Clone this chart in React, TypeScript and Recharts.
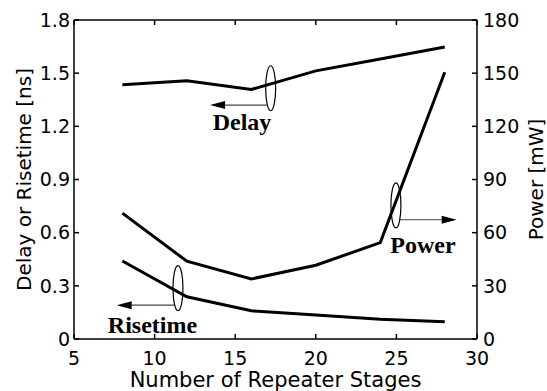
import React from "react";
import {
  LineChart,
  Line,
  XAxis,
  YAxis,
  ReferenceLine,
  ReferenceDot,
} from "recharts";

// repeater stages on the x axis
const STAGES = [8, 12, 16, 20, 24, 28];
// left axis, ns
const DELAY = [1.434, 1.457, 1.408, 1.513, 1.58, 1.648];
const RISETIME = [0.44, 0.238, 0.159, 0.135, 0.111, 0.097];
// right axis, mW
const POWER = [71, 43.9, 33.9, 41.6, 54.4, 150.5];

const X_TICKS = [5, 10, 15, 20, 25, 30];
const LEFT_TICKS = [0, 0.3, 0.6, 0.9, 1.2, 1.5, 1.8];
const RIGHT_TICKS = [0, 30, 60, 90, 120, 150, 180];
const X_DOMAIN = [5, 30];
const LEFT_DOMAIN = [0, 1.8];
const RIGHT_DOMAIN = [0, 180];

// annotation anchors (data units, left axis)
const RINGS = [
  { x: 17.2, y: 1.415 },
  { x: 24.97, y: 0.754 },
  { x: 11.45, y: 0.287 },
];
const ARROWS = [
  { from: { x: 16.95, y: 1.32 }, to: { x: 13.44, y: 1.32 } },
  { from: { x: 25.22, y: 0.673 }, to: { x: 28.74, y: 0.673 } },
  { from: { x: 11.27, y: 0.191 }, to: { x: 7.65, y: 0.191 } },
];
const TAGS = [
  { x: 15.42, y: 1.181, text: "Delay" },
  { x: 26.65, y: 0.484, text: "Power" },
  { x: 9.87, y: 0.034, text: "Risetime" },
];

const data = STAGES.map((s, i) => ({
  stages: s,
  delay: DELAY[i],
  risetime: RISETIME[i],
  power: POWER[i],
}));

const FONT = "'DejaVu Sans', sans-serif";
const tickStyle = { fill: "#000", fontSize: 19, fontFamily: FONT };
const axisStroke = { stroke: "#000", strokeWidth: 1.5 };

const Arrow = (props: any) => {
  const { x1, y1, x2, y2 } = props;
  const dir = x2 > x1 ? 1 : -1;
  const len = 15;
  const half = 4;
  return (
    <g>
      <line x1={x1} y1={y1} x2={x2 - dir * len} y2={y2} stroke="#444" strokeWidth={1.2} />
      <polygon
        points={`${x2},${y2} ${x2 - dir * len},${y2 - half} ${x2 - dir * len},${y2 + half}`}
        fill="#000"
      />
    </g>
  );
};

export default function App() {
  return (
    <div style={{ position: "absolute", left: 0, top: 0, background: "#fff" }}>
      <LineChart
        width={547}
        height={391}
        data={data}
        margin={{ top: 19, right: 0, bottom: 0, left: 0 }}
      >
        <XAxis
          dataKey="stages"
          type="number"
          domain={X_DOMAIN}
          ticks={X_TICKS}
          height={52}
          axisLine={axisStroke}
          tickLine={axisStroke}
          tickSize={-5}
          tickMargin={18}
          tick={tickStyle}
          label={{
            value: "Number of Repeater Stages",
            position: "insideBottom",
            offset: 4,
            style: { fill: "#000", fontSize: 21, fontFamily: FONT, textAnchor: "middle" },
          }}
        />
        {/* top edge of the box, ticks only */}
        <XAxis
          xAxisId="top"
          orientation="top"
          dataKey="stages"
          type="number"
          domain={X_DOMAIN}
          ticks={X_TICKS}
          height={1}
          axisLine={axisStroke}
          tickLine={axisStroke}
          tickSize={-5}
          tickFormatter={() => ""}
        />
        <YAxis
          yAxisId="left"
          domain={LEFT_DOMAIN}
          ticks={LEFT_TICKS}
          width={74}
          axisLine={axisStroke}
          tickLine={axisStroke}
          tickSize={-5}
          tickMargin={9}
          tick={tickStyle}
          label={{
            value: "Delay or Risetime [ns]",
            angle: -90,
            position: "insideLeft",
            offset: 24,
            style: { fill: "#000", fontSize: 20, fontFamily: FONT, textAnchor: "middle" },
          }}
        />
        <YAxis
          yAxisId="right"
          orientation="right"
          domain={RIGHT_DOMAIN}
          ticks={RIGHT_TICKS}
          width={70}
          axisLine={axisStroke}
          tickLine={axisStroke}
          tickSize={-5}
          tickMargin={11}
          tick={tickStyle}
          label={{
            value: "Power [mW]",
            angle: -90,
            position: "insideRight",
            offset: 11,
            style: { fill: "#000", fontSize: 20, fontFamily: FONT, textAnchor: "middle" },
          }}
        />

        <Line yAxisId="left" dataKey="delay" stroke="#000" strokeWidth={3} dot={false} isAnimationActive={false} />
        <Line yAxisId="right" dataKey="power" stroke="#000" strokeWidth={3} dot={false} isAnimationActive={false} />
        <Line yAxisId="left" dataKey="risetime" stroke="#000" strokeWidth={3} dot={false} isAnimationActive={false} />

        {RINGS.map((r, i) => (
          <ReferenceDot
            key={`ring-${i}`}
            yAxisId="left"
            x={r.x}
            y={r.y}
            shape={(p: any) => (
              <ellipse cx={p.cx} cy={p.cy} rx={5} ry={22.5} fill="none" stroke="#000" strokeWidth={1.2} />
            )}
          />
        ))}
        {ARROWS.map((a, i) => (
          <ReferenceLine
            key={`arrow-${i}`}
            yAxisId="left"
            segment={[a.from, a.to]}
            shape={Arrow}
          />
        ))}
        {TAGS.map((t, i) => (
          <ReferenceDot
            key={`tag-${i}`}
            yAxisId="left"
            x={t.x}
            y={t.y}
            shape={(p: any) => (
              <text
                x={p.cx}
                y={p.cy}
                textAnchor="middle"
                fill="#000"
                fontSize={24}
                fontWeight="bold"
                fontFamily="'Liberation Serif', serif"
              >
                {t.text}
              </text>
            )}
          />
        ))}
      </LineChart>
    </div>
  );
}
